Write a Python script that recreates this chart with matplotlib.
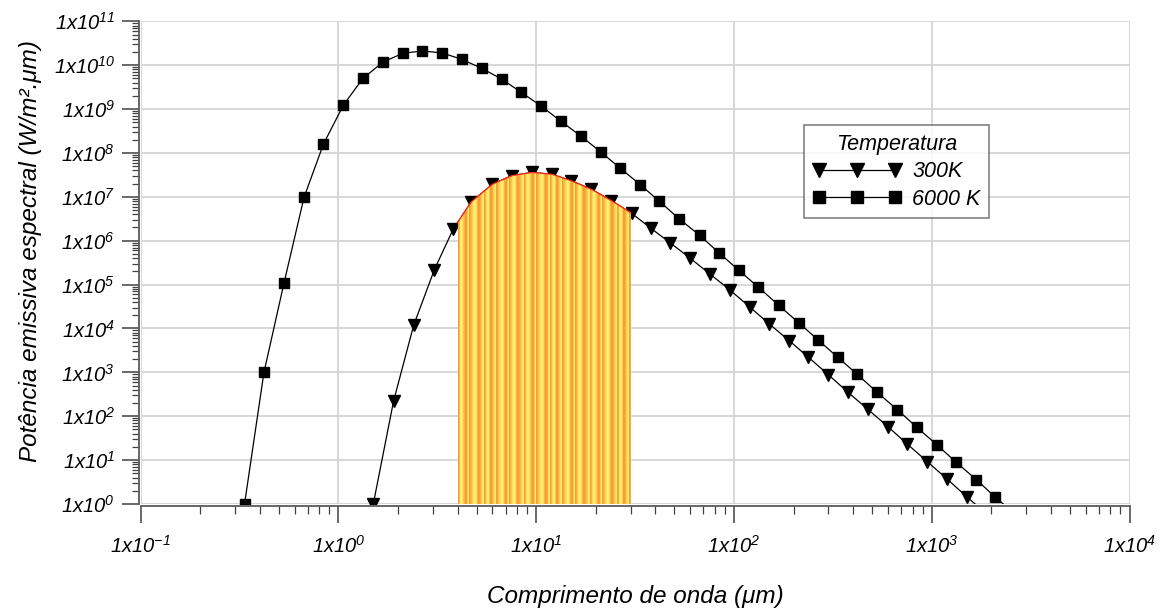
import numpy as np
import matplotlib
matplotlib.use("Agg")
import matplotlib.pyplot as plt
from matplotlib.patches import Polygon
from matplotlib.colors import LinearSegmentedColormap
from matplotlib.ticker import FixedLocator, FuncFormatter, LogLocator, NullFormatter

# ---------------- data ----------------
lam_6000 = [0.335, 0.42, 0.53, 0.67, 0.84, 1.06, 1.33, 1.68, 2.12, 2.66,
            3.35, 4.2, 5.3, 6.7, 8.4, 10.6, 13.3, 16.8, 21.2, 26.6,
            33.5, 42, 53, 67, 84, 106, 133, 168, 212, 266,
            335, 420, 530, 670, 840, 1060, 1330, 1680, 2100, 2660]
e_6000 = [1.0, 1.0e3, 1.07e5, 9.8e6, 1.6e8, 1.24e9, 5.0e9, 1.18e10, 1.87e10, 2.11e10,
          1.90e10, 1.36e10, 8.5e9, 4.8e9, 2.4e9, 1.17e9, 5.3e8, 2.44e8, 1.05e8, 4.5e7,
          1.9e7, 7.9e6, 3.1e6, 1.33e6, 5.3e5, 2.1e5, 8.7e4, 3.4e4, 1.36e4, 5.5e3,
          2.2e3, 900, 350, 141, 56, 22.5, 8.9, 3.6, 1.42, 0.57]

lam_300 = [1.5, 1.9, 2.4, 3.05, 3.8, 4.7, 6.0, 7.5, 9.5, 12,
           15, 19, 24, 30.4, 38, 47.5, 60, 75.5, 95.5, 120,
           151, 190, 238, 300, 377, 475, 600, 754, 950, 1200,
           1500, 1900]
e_300 = [1.0, 222, 1.18e4, 2.15e5, 1.82e6, 7.7e6, 1.93e7, 3.03e7, 3.6e7, 3.27e7,
         2.33e7, 1.49e7, 8.2e6, 4.2e6, 1.92e6, 9.0e5, 4.0e5, 1.75e5, 7.5e4, 3.1e4,
         1.26e4, 5.3e3, 2.2e3, 885, 352, 144, 58, 23, 9.2, 3.66,
         1.47, 0.59]

band_lo, band_hi = 4.0, 30.0
x_major = [1e-1, 1e0, 1e1, 1e2, 1e3, 1e4]
y_major = [10.0 ** k for k in range(0, 12)]
series_labels = ["300K", "6000 K"]
legend_title = "Temperatura"
xlabel = "Comprimento de onda (\u03bcm)"
ylabel = "Pot\u00eancia emissiva espectral (W/m\u00b2.\u03bcm)"

# ---------------- style ----------------
plt.rcParams["font.family"] = ["Liberation Sans", "DejaVu Sans"]
plt.rcParams["font.style"] = "italic"
plt.rcParams["mathtext.fontset"] = "custom"
plt.rcParams["mathtext.it"] = "Liberation Sans:italic"
plt.rcParams["mathtext.rm"] = "Liberation Sans:italic"
plt.rcParams["mathtext.default"] = "it"

W, H = 1167, 610
fig = plt.figure(figsize=(W / 100, H / 100), dpi=100)
ax = fig.add_axes([140.7 / W, 1 - 504 / H, 988.8 / W, 482.7 / H])
ax.set_xscale("log")
ax.set_yscale("log")
ax.set_xlim(1e-1, 1e4)
ax.set_ylim(1e0, 1e11)

# curves
l300, = ax.plot(lam_300, e_300, color="black", lw=0.9, marker="v", ms=8,
                mfc="black", mec="black", zorder=3, label=series_labels[0])
l6000, = ax.plot(lam_6000, e_6000, color="black", lw=0.9, marker="s", ms=6.5,
                 mfc="black", mec="black", zorder=3, label=series_labels[1])

# shaded band under the 300K curve
xs = np.logspace(np.log10(band_lo), np.log10(band_hi), 300)
ys = 10 ** np.interp(np.log10(xs), np.log10(lam_300), np.log10(e_300))
verts = [(band_lo, 1.0)] + list(zip(xs, ys)) + [(band_hi, 1.0)]
clip = Polygon(verts, closed=True, transform=ax.transData, facecolor="none",
               edgecolor="none")
ax.add_patch(clip)
# striped texture: stripes of a few pixels, each a yellow/orange gradient
stripe_w = [4, 5, 3, 6, 4, 5, 4, 3, 5, 6, 4, 3, 5, 4, 6]
vals = []
k = 0
while len(vals) < 180:
    w = stripe_w[k % len(stripe_w)]
    rev = (k % 3 == 1)
    ramp = np.linspace(0, 1, w)
    vals.extend(list(ramp[::-1] if rev else ramp))
    k += 1
tex = np.array(vals[:175])
ncol = len(tex)
xe = np.logspace(np.log10(band_lo), np.log10(band_hi), ncol + 1)
cmap = LinearSegmentedColormap.from_list("sun", ["#F6A032", "#FAB843", "#FFDA5C", "#FFEE72"])
mesh = ax.pcolormesh(xe, [1.0, 1e9], tex[None, :], cmap=cmap, vmin=0, vmax=1,
                     shading="flat", zorder=4, antialiased=False)
mesh.set_clip_path(clip)
ax.plot(xs, ys, color="#FF2A1A", lw=0.9, zorder=5)

# grid & axes
ax.grid(True, which="major", color="#D4D4D4", lw=1.3, zorder=0)
ax.set_axisbelow(True)
for s in ("top", "right"):
    ax.spines[s].set_visible(False)
for s in ("left", "bottom"):
    ax.spines[s].set_color("#5A5A5A")
    ax.spines[s].set_linewidth(1.3)
    ax.spines[s].set_position(("outward", 1.5))

ax.xaxis.set_major_locator(FixedLocator(x_major))
ax.yaxis.set_major_locator(FixedLocator(y_major))
ax.xaxis.set_minor_locator(LogLocator(base=10, subs=np.arange(2, 10), numticks=50))
ax.yaxis.set_minor_locator(LogLocator(base=10, subs=np.arange(2, 10), numticks=50))
ax.xaxis.set_minor_formatter(NullFormatter())
ax.yaxis.set_minor_formatter(NullFormatter())
fmt = FuncFormatter(lambda v, p: r"$1x10^{%d}$" % int(round(np.log10(v))))
ax.xaxis.set_major_formatter(fmt)
ax.yaxis.set_major_formatter(fmt)

ax.tick_params(axis="y", which="major", length=12, width=1.1, color="#404040",
               labelsize=14.5, pad=5, direction="out")
ax.tick_params(axis="y", which="minor", length=5, width=0.9, color="#404040",
               direction="out")
ax.tick_params(axis="x", which="major", length=12, width=1.1, color="#404040",
               labelsize=14.5, pad=9, direction="out")
ax.tick_params(axis="x", which="minor", length=6, width=0.9, color="#404040",
               direction="out")

ax.set_xlabel(xlabel, fontsize=17.5, labelpad=20)
ax.set_ylabel(ylabel, fontsize=17.5)
ax.yaxis.set_label_coords(-0.1, 0.525, transform=ax.transAxes)

leg = ax.legend(handles=[l300, l6000], title=legend_title, loc="upper left",
                bbox_to_anchor=(0.6708, 0.7852), borderaxespad=0, numpoints=3,
                handlelength=4.13, handletextpad=0.49, labelspacing=0.3,
                fontsize=15.5, title_fontsize=15.5, markerscale=1.3, fancybox=False,
                frameon=True, borderpad=0.4)
leg.get_frame().set_edgecolor("#555555")
leg.get_frame().set_linewidth(1.1)
leg.set_zorder(10)

fig.savefig("out.png", dpi=100)
